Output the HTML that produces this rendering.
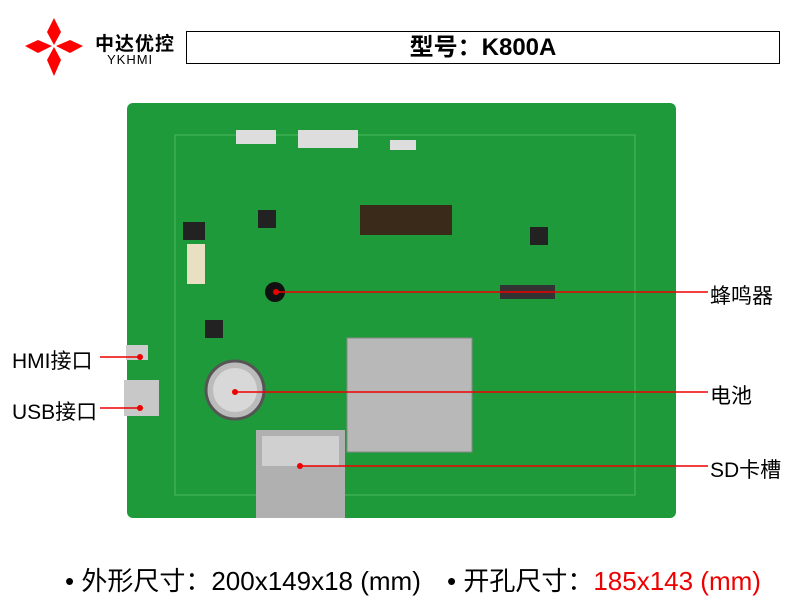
<!DOCTYPE html>
<html><head><meta charset="utf-8"><style>
body{margin:0;width:800px;height:600px;background:#fff;position:relative;overflow:hidden;font-family:"Liberation Sans","Noto Sans CJK SC",sans-serif}
.a{position:absolute}
.lbl{position:absolute;font-size:21px;color:#000;white-space:nowrap}
</style></head><body>
<svg class="a" style="left:0;top:0" width="800" height="600">
<g fill="#f00">
<polygon points="54,18 61,32 54,45 47,32"/>
<polygon points="54,47 61,60 54,76 47,60"/>
<polygon points="25,46 38,40 52,46 38,53"/>
<polygon points="56,46 70,40 83,46 70,53"/>
</g>
<rect x="127" y="103" width="549" height="415" rx="6" fill="#1f9a3a"/>
<rect x="175" y="135" width="460" height="360" fill="none" stroke="#4cb860" stroke-width="1"/>
<rect x="187" y="244" width="18" height="40" fill="#e8e0c0"/>
<rect x="183" y="222" width="22" height="18" fill="#222"/>
<circle cx="275" cy="292" r="10" fill="#111"/>
<circle cx="235" cy="390" r="29" fill="#bbb" stroke="#555" stroke-width="3"/>
<circle cx="235" cy="390" r="22" fill="#d8d8d8"/>
<rect x="347" y="338" width="125" height="114" fill="#b8b8b8" stroke="#888"/>
<rect x="256" y="430" width="89" height="88" fill="#b0b0b0"/>
<rect x="262" y="436" width="77" height="30" fill="#d0d0d0"/>
<rect x="360" y="205" width="92" height="30" fill="#3a2a1a"/>
<rect x="236" y="130" width="40" height="14" fill="#ddd"/>
<rect x="298" y="130" width="60" height="18" fill="#ddd"/>
<rect x="390" y="140" width="26" height="10" fill="#ddd"/>
<rect x="126" y="345" width="22" height="15" fill="#ccc"/>
<rect x="124" y="380" width="35" height="36" fill="#c8c8c8"/>
<rect x="258" y="210" width="18" height="18" fill="#222"/>
<rect x="530" y="227" width="18" height="18" fill="#222"/>
<rect x="205" y="320" width="18" height="18" fill="#222"/>
<rect x="500" y="285" width="55" height="14" fill="#333"/>
<g stroke="#e00" stroke-width="1.5" fill="none">
<line x1="276" y1="292" x2="708" y2="292"/>
<line x1="235" y1="392" x2="708" y2="392"/>
<line x1="300" y1="466" x2="708" y2="466"/>
<line x1="100" y1="357" x2="140" y2="357"/>
<line x1="100" y1="408" x2="140" y2="408"/>
</g>
<g fill="#e00"><circle cx="276" cy="292" r="3"/><circle cx="235" cy="392" r="3"/><circle cx="300" cy="466" r="3"/><circle cx="140" cy="357" r="3"/><circle cx="140" cy="408" r="3"/></g>
</svg>
<div class="a" style="left:95px;top:29px;font-size:19px;font-weight:bold;letter-spacing:1px">中达优控</div>
<div class="a" style="left:107px;top:52px;font-size:13px;letter-spacing:1px">YKHMI</div>
<div class="a" style="left:186px;top:31px;width:592px;height:31px;border:1px solid #000;text-align:center;font-size:24px;font-weight:bold;line-height:31px">型号：K800A</div>
<div class="lbl" style="left:710px;top:280px">蜂鸣器</div>
<div class="lbl" style="left:710px;top:380px">电池</div>
<div class="lbl" style="left:710px;top:454px">SD卡槽</div>
<div class="lbl" style="left:12px;top:345px">HMI接口</div>
<div class="lbl" style="left:12px;top:396px">USB接口</div>
<div class="lbl" style="left:65px;top:561px;font-size:26px">• 外形尺寸：200x149x18 (mm)</div>
<div class="lbl" style="left:447px;top:561px;font-size:26px">• 开孔尺寸：<span style="color:#e00">185x143 (mm)</span></div>
</body></html>
